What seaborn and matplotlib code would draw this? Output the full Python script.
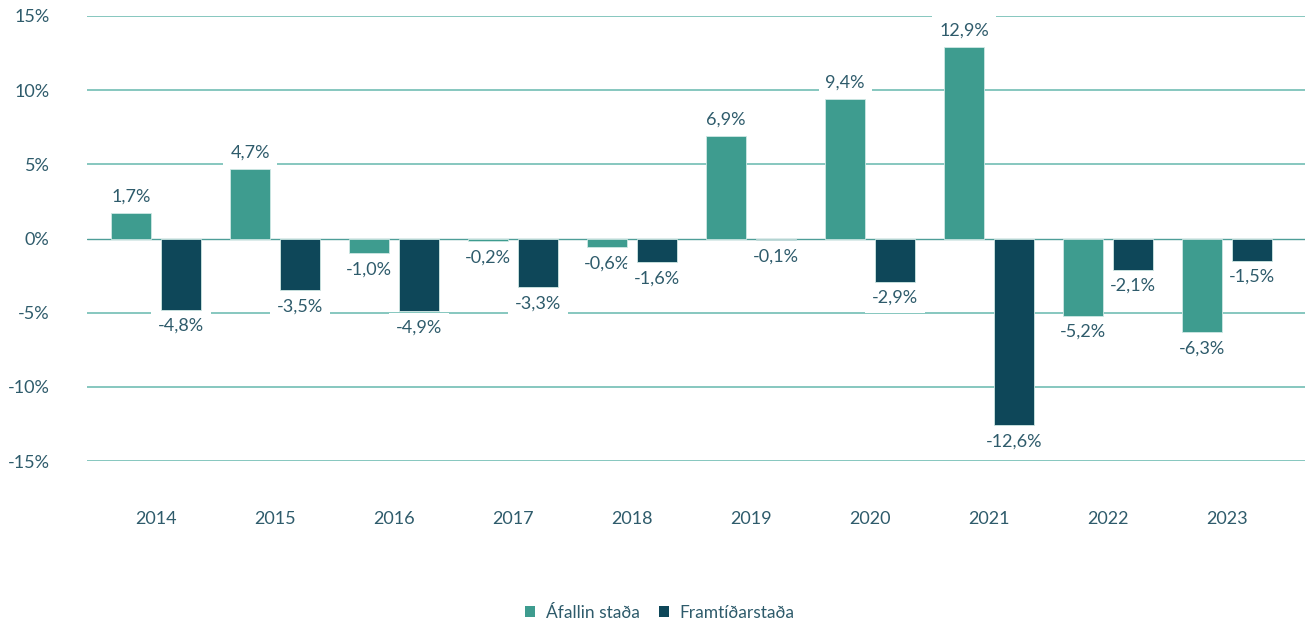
import matplotlib
matplotlib.use("Agg")
import matplotlib.pyplot as plt
from matplotlib.patches import Patch
import seaborn as sns
import pandas as pd

years = ["2014", "2015", "2016", "2017", "2018", "2019", "2020", "2021", "2022", "2023"]
afallin = [1.7, 4.7, -1.0, -0.2, -0.6, 6.9, 9.4, 12.9, -5.2, -6.3]
framtid = [-4.8, -3.5, -4.9, -3.3, -1.6, -0.1, -2.9, -12.6, -2.1, -1.5]
series_names = ["Áfallin staða", "Framtíðarstaða"]
y_ticks = [-15, -10, -5, 0, 5, 10, 15]
y_tick_labels = ["-15%", "-10%", "-5%", "0%", "5%", "10%", "15%"]

teal = "#3E9C8F"
navy = "#0E4759"
grid_col = "#72BDB4"
text_col = "#2E5B6B"

df = pd.DataFrame({
    "year": years * 2,
    "value": afallin + framtid,
    "series": [series_names[0]] * len(years) + [series_names[1]] * len(years),
})

sns.set_theme(style="white")
plt.rcParams["font.family"] = ["Lato", "DejaVu Sans"]

fig = plt.figure(figsize=(13.09, 6.25), dpi=100)
ax = fig.add_axes([0.0665, 0.2624, 0.9305, 0.712])

sns.barplot(
    data=df, x="year", y="value", hue="series", order=years,
    hue_order=series_names, palette={series_names[0]: teal, series_names[1]: navy},
    width=0.84, gap=0.2, saturation=1, edgecolor="#cfe8e4", linewidth=0.6,
    legend=False, ax=ax, zorder=3,
)

ax.set_ylim(-15, 15)
ax.set_xlim(-0.58, 9.655)
ax.set_yticks(y_ticks)
ax.set_yticklabels(y_tick_labels)
for t in y_ticks:
    if t != 0:
        ax.axhline(t, color=grid_col, lw=1.2, zorder=0)
ax.axhline(0, color="#4E9E98", lw=1.0, zorder=2.5)

ax.tick_params(axis="y", length=0, pad=27, labelsize=13, labelcolor=text_col)
ax.tick_params(axis="x", length=0, pad=36, labelsize=13, labelcolor=text_col)
ax.set_xlabel("")
ax.set_ylabel("")
for s in ax.spines.values():
    s.set_visible(False)

def fmt(v):
    return f"{v:.1f}%".replace(".", ",")

# value labels sit above the gridlines but beneath the bars and zero line
for container, vals in zip(ax.containers, [afallin, framtid]):
    ax.bar_label(
        container, labels=[fmt(v) for v in vals], padding=6,
        fontsize=13, color=text_col, zorder=1,
        bbox=dict(facecolor="white", edgecolor="none", pad=5),
    )

handles = [Patch(facecolor=teal, edgecolor="none"), Patch(facecolor=navy, edgecolor="none")]
fig.legend(
    handles, series_names, loc="center", bbox_to_anchor=(0.504, 0.02),
    ncol=2, frameon=False, fontsize=12.5, labelcolor=text_col,
    handlelength=0.6, handleheight=0.6, handletextpad=0.6, columnspacing=1.1,
)

fig.savefig("out.png", dpi=100)
